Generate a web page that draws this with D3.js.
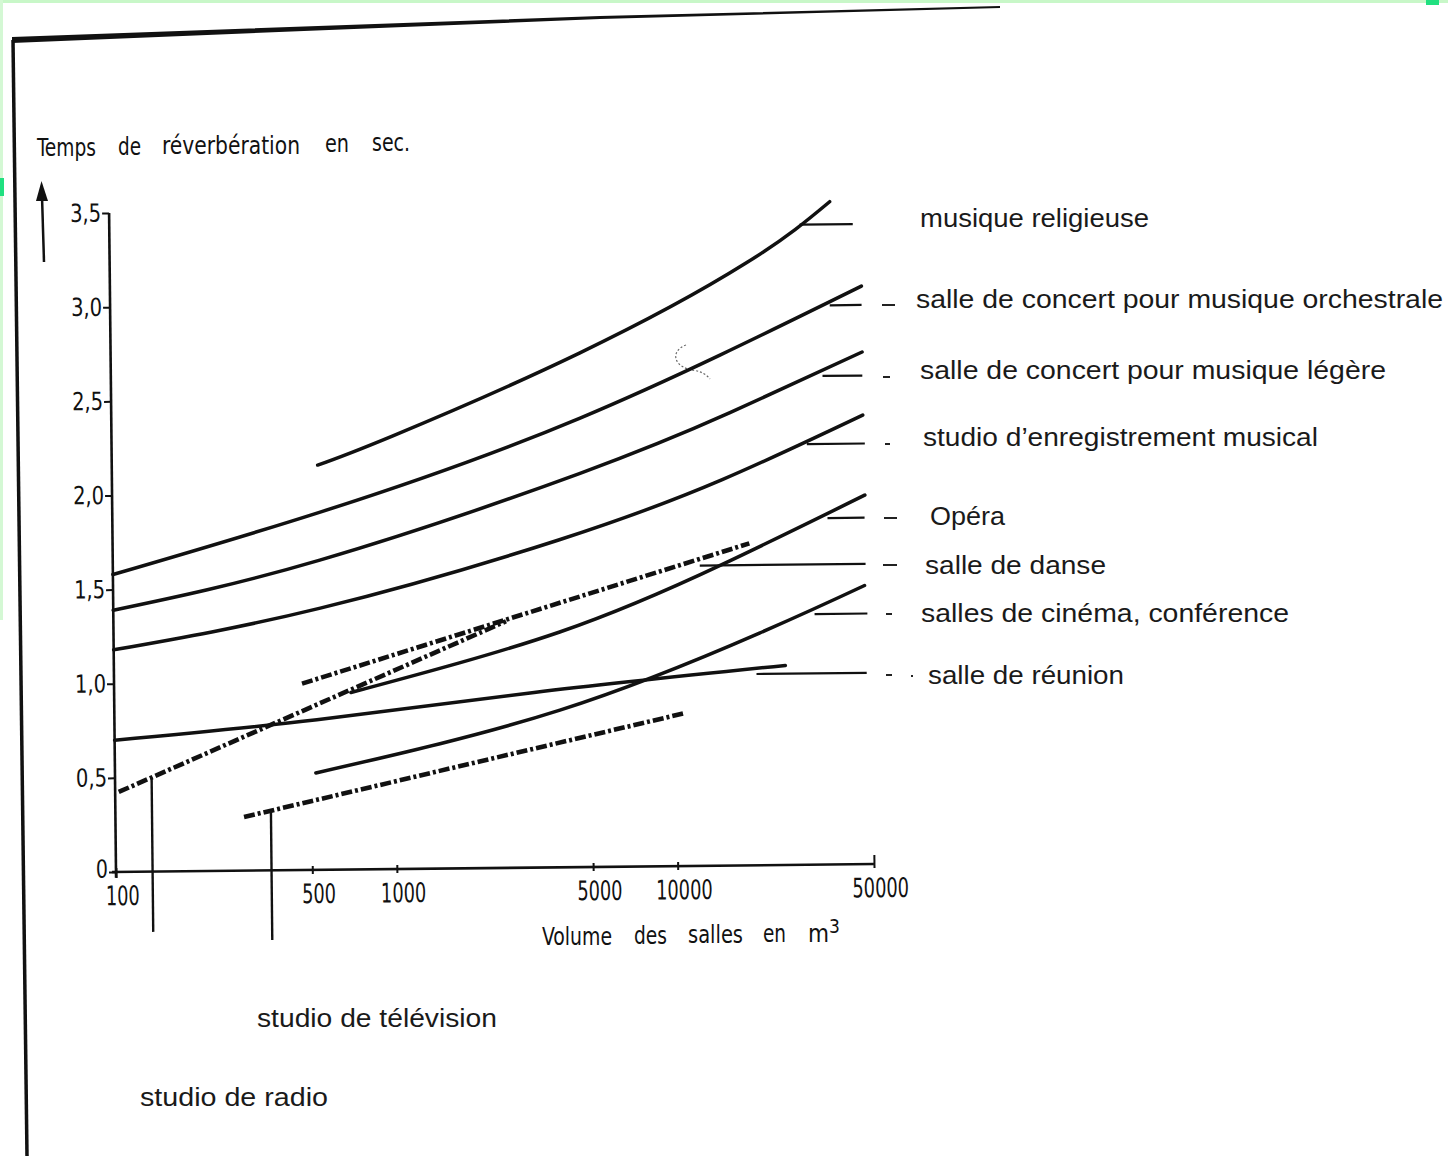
<!DOCTYPE html>
<html>
<head>
<meta charset="utf-8">
<script src="https://cdn.jsdelivr.net/npm/d3@7"></script>
<style>
  body { margin: 0; background: #fff; }
  svg { display: block; }
</style>
</head>
<body>
<div id="root"></div>
<script>
// Reverberation time (s) against room volume (m3)
const volumeTicks = [100, 500, 1000, 5000, 10000, 50000];
const timeTicks = [0, 0.5, 1, 1.5, 2, 2.5, 3, 3.5];

// solid curves [volume, seconds]
const religieuse = [[541, 2.15], [1000, 2.30], [4670, 2.73], [18500, 3.20], [36800, 3.52]];
const orchestrale = [[100, 1.58], [550, 1.90], [4670, 2.385], [47400, 3.07]];
const legere = [[100, 1.39], [546, 1.645], [4620, 2.09], [15960, 2.405], [47400, 2.72]];
const enregistrement = [[100, 1.18], [546, 1.39], [3900, 1.74], [14900, 2.05], [47400, 2.385]];
const opera = [[697, 0.94], [3880, 1.25], [14800, 1.60], [47900, 1.96]];
const cinema = [[519, 0.515], [3860, 0.835], [19950, 1.233], [47400, 1.48]];
const reunion = [[100, 0.70], [526, 0.797], [3130, 0.93], [24600, 1.06]];

// dash-dot lines
const radio = [[103, 0.425], [2500, 1.31]];
const danse = [[467, 0.99], [18500, 1.71]];
const television = [[287, 0.285], [10600, 0.81]];

// horizontal leaders towards the labels [from volume, to volume, seconds]
const labelLeaders = [[28700, 44400, 3.40], [36500, 47400, 2.97], [34200, 47400, 2.595], [29900, 48100, 2.234],
  [35200, 47700, 1.84], [12300, 47900, 1.595], [31400, 48400, 1.331], [19400, 47900, 1.016]];
// vertical leaders down to the studio labels [volume, top seconds, bottom seconds]
const studioLeaders = [[135, 0.50, -0.32], [358, 0.317, -0.37]];

const categories = ["musique religieuse", "salle de concert pour musique orchestrale", "salle de concert pour musique légère",
  "studio d’enregistrement musical", "Opéra", "salle de danse", "salles de cinéma, conférence", "salle de réunion",
  "studio de télévision", "studio de radio"];

const W = 1448, H = 1156;
const stencil = "'DejaVu Sans Condensed', 'DejaVu Sans', sans-serif";
const helv = "'Liberation Sans', Arial, sans-serif";

const svg = d3.select("#root").append("svg").attr("width", W).attr("height", H);

// scan edges
svg.append("rect").attr("width", W).attr("height", H).attr("fill", "#fff");
svg.append("rect").attr("x", 0).attr("y", 0).attr("width", W).attr("height", 3).attr("fill", "#c8f7c8");
svg.append("rect").attr("x", 0).attr("y", 0).attr("width", 3).attr("height", 620).attr("fill", "#d4f8d4");
svg.append("rect").attr("x", 0).attr("y", 178).attr("width", 4).attr("height", 18).attr("fill", "#20e080");
svg.append("rect").attr("x", 1426).attr("y", 0).attr("width", 13).attr("height", 5).attr("fill", "#20e080");
svg.append("path").attr("d", "M12,37 L600,16 L1000,6 L1000,8 L600,19 L12,43 Z").attr("fill", "#111");
svg.append("line").attr("x1", 13).attr("y1", 40).attr("x2", 27).attr("y2", H)
  .attr("stroke", "#111").attr("stroke-width", 3.5);

// stray pencil mark
svg.append("path").attr("d", "M686,345 C672,350 672,364 688,369 M692,370 C700,371 706,374 710,379")
  .attr("fill", "none").attr("stroke", "#666").attr("stroke-width", 1.2).attr("stroke-dasharray", "2 2");

// y arrow
svg.append("line").attr("x1", 44).attr("y1", 262).attr("x2", 42).attr("y2", 196)
  .attr("stroke", "#111").attr("stroke-width", 2.5);
svg.append("path").attr("d", "M36,201 L41.5,181 L48,201 Z").attr("fill", "#111");

// chart group, the scan is turned a little
const g = svg.append("g").attr("transform", "rotate(-0.6,116,872)");

const x = d3.scaleLog().domain([100, 50000]).range([116, 874]);
const y = d3.scaleLinear().domain([0, 3.5]).range([872, 213]);

const fmt = d => d === 0 ? "0" : d.toFixed(1).replace(".", ",");

const gy = g.append("g").attr("transform", "translate(116,0)")
  .call(d3.axisLeft(y).tickValues(timeTicks).tickSize(7).tickPadding(1).tickFormat(fmt));
gy.select(".domain").remove();
gy.selectAll(".tick line").attr("stroke", "#111").attr("stroke-width", 2);
gy.selectAll(".tick text").attr("fill", "#111").style("font-family", stencil).style("font-size", "25px")
  .attr("textLength", d => d === 0 ? 12 : 31).attr("lengthAdjust", "spacingAndGlyphs")
  .attr("dy", d => d === 0 ? "0.2em" : "0.32em");

const gx = g.append("g").attr("transform", "translate(0,872)")
  .call(d3.axisBottom(x).tickValues(volumeTicks).tickSize(5).tickPadding(9).tickFormat(d3.format("d")));
gx.select(".domain").remove();
gx.selectAll(".tick line").attr("stroke", "#111").attr("stroke-width", 2)
  .attr("y1", d => d === 50000 ? -9 : -4).attr("y2", d => d === 100 ? 6 : 4);
gx.selectAll(".tick text").attr("fill", "#111").attr("dx", 6).style("font-family", stencil).style("font-size", "27px")
  .attr("textLength", d => String(d).length * 11.3).attr("lengthAdjust", "spacingAndGlyphs");

// axis lines
g.append("line").attr("x1", x(100)).attr("x2", x(100)).attr("y1", y(-0.03)).attr("y2", y(3.5))
  .attr("stroke", "#111").attr("stroke-width", 2.6);
g.append("line").attr("x1", x(100) - 4).attr("x2", x(50000)).attr("y1", y(0)).attr("y2", y(0))
  .attr("stroke", "#111").attr("stroke-width", 2.6);

const line = d3.line().x(d => x(d[0])).y(d => y(d[1])).curve(d3.curveNatural);

[religieuse, orchestrale, legere, enregistrement, opera, cinema, reunion].forEach(c => {
  g.append("path").attr("d", line(c)).attr("fill", "none")
    .attr("stroke", "#111").attr("stroke-width", 3.5).attr("stroke-linecap", "round");
});

[radio, danse, television].forEach(c => {
  g.append("path").attr("d", line(c)).attr("fill", "none")
    .attr("stroke", "#111").attr("stroke-width", 4.6).attr("stroke-dasharray", "11 3 3 3");
});

labelLeaders.forEach(d => {
  g.append("line").attr("x1", x(d[0])).attr("x2", x(d[1])).attr("y1", y(d[2])).attr("y2", y(d[2]))
    .attr("stroke", "#111").attr("stroke-width", 2.2);
});

studioLeaders.forEach(d => {
  g.append("line").attr("x1", x(d[0])).attr("x2", x(d[0])).attr("y1", y(d[1])).attr("y2", y(d[2]))
    .attr("stroke", "#111").attr("stroke-width", 2.4);
});

// text helper
function label(s, x0, base, size, len, family, fill) {
  return svg.append("text").attr("x", x0).attr("y", base).text(s)
    .style("font-family", family).style("font-size", size + "px").attr("fill", fill || "#111")
    .attr("textLength", len).attr("lengthAdjust", "spacingAndGlyphs");
}

// axis titles (words spread like the lettering stencil)
[["Temps", 37, 59, 156], ["de", 118, 23, 155], ["réverbération", 162, 138, 154], ["en", 325, 24, 152], ["sec.", 372, 38, 151]]
  .forEach(w => label(w[0], w[1], w[3], 24, w[2], stencil));
[["Volume", 542, 70, 945], ["des", 634, 33, 944], ["salles", 688, 55, 943], ["en", 763, 23, 942]]
  .forEach(w => label(w[0], w[1], w[3], 24, w[2], stencil));
const m3 = svg.append("text").attr("x", 808).attr("y", 942)
  .style("font-family", stencil).style("font-size", "24px").attr("fill", "#111");
m3.append("tspan").text("m");
m3.append("tspan").attr("dy", -9).style("font-size", "19px").text("3");

// category labels
const labelPos = [[920, 227, 229], [916, 308, 527], [920, 379, 466], [923, 446, 395], [930, 525, 75],
  [925, 574, 181], [921, 622, 368], [928, 684, 196], [257, 1027, 240], [140, 1106, 188]];
categories.forEach((c, i) => label(c, labelPos[i][0], labelPos[i][1], 25, labelPos[i][2], helv, "#1a1a1a"));

// little dashes in front of the labels
[[882, 895, 305], [883, 890, 377], [885, 890, 444], [884, 897, 518], [883, 897, 565], [886, 892, 614], [886, 892, 675], [911, 913, 676]]
  .forEach(d => svg.append("line").attr("x1", d[0]).attr("x2", d[1]).attr("y1", d[2]).attr("y2", d[2])
    .attr("stroke", "#222").attr("stroke-width", 2));
</script>
</body>
</html>
